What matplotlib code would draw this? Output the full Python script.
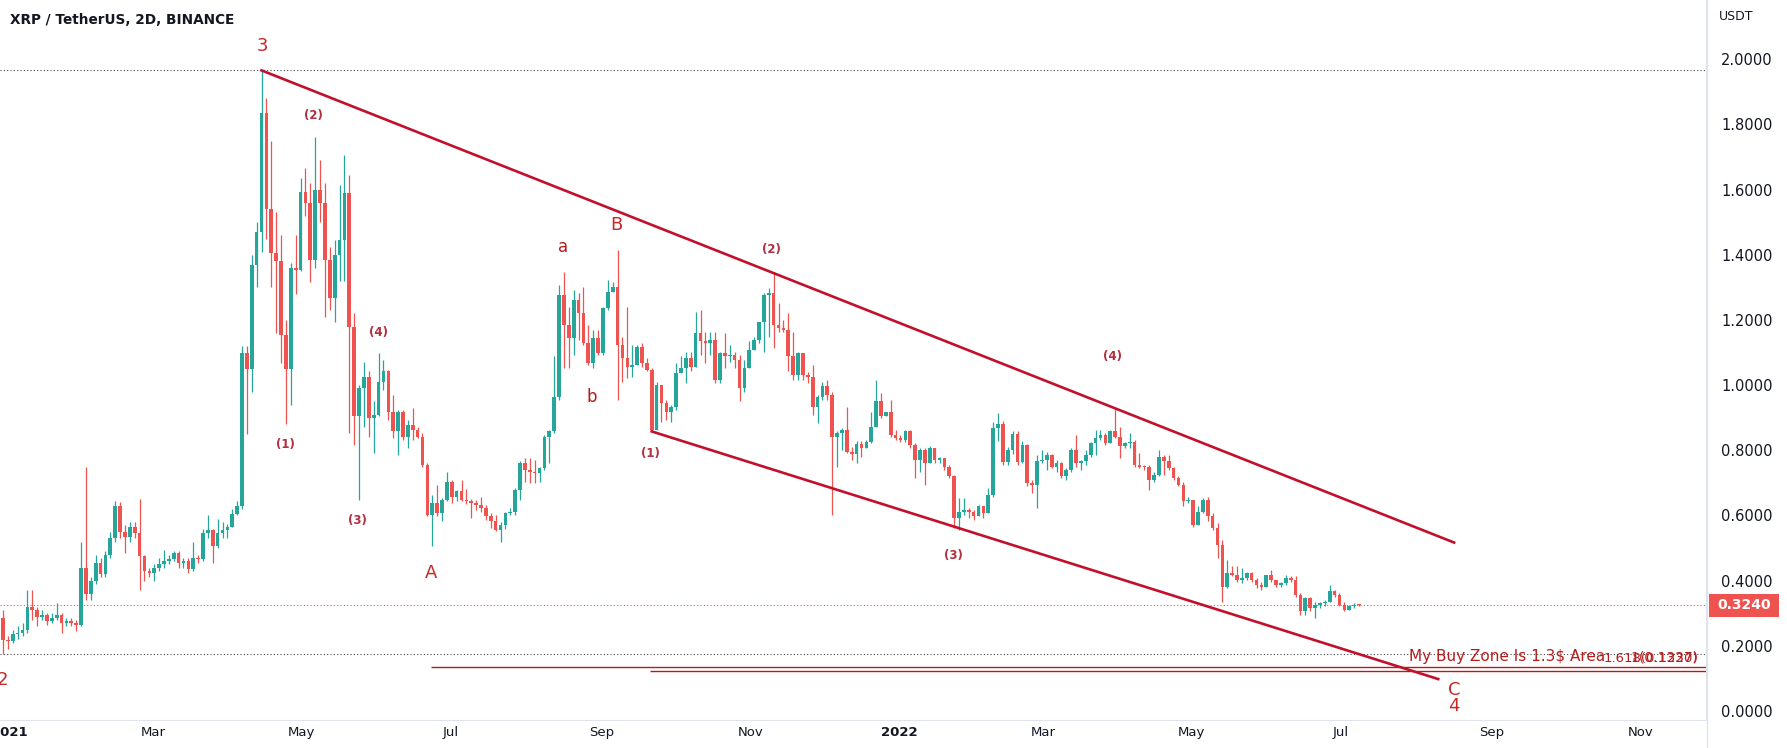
import numpy as np
import matplotlib.pyplot as plt
import matplotlib.transforms as mtransforms
from matplotlib.patches import Rectangle
from datetime import date

# XRP/USDT 2D candles (first candle ~29 Dec 2020)
first_open = 0.285
closes = [
    0.219, 0.215, 0.235, 0.24, 0.25, 0.32, 0.31, 0.29, 0.295, 0.275,
    0.285, 0.295, 0.27, 0.275, 0.27, 0.265, 0.44, 0.36, 0.40, 0.455,
    0.42, 0.48, 0.53, 0.63, 0.55, 0.535, 0.565, 0.545, 0.475, 0.43,
    0.425, 0.44, 0.45, 0.46, 0.465, 0.485, 0.455, 0.46, 0.435, 0.47,
    0.465, 0.545, 0.555, 0.505, 0.545, 0.555, 0.565, 0.605, 0.63, 1.10,
    1.05, 1.37, 1.47, 1.835, 1.54, 1.405, 1.38, 1.155, 1.05, 1.36,
    1.354, 1.594, 1.558, 1.384, 1.599, 1.558, 1.384, 1.266, 1.40, 1.446,
    1.589, 1.18, 0.904, 0.991, 1.026, 0.899, 0.909, 1.011, 1.042, 0.919,
    0.858, 0.919, 0.842, 0.878, 0.863, 0.842, 0.755, 0.602, 0.638, 0.607,
    0.648, 0.704, 0.658, 0.674, 0.648, 0.645, 0.638, 0.633, 0.623, 0.597,
    0.582, 0.556, 0.571, 0.607, 0.612, 0.679, 0.761, 0.740, 0.735, 0.730,
    0.745, 0.842, 0.858, 0.965, 1.277, 1.185, 1.144, 1.262, 1.221, 1.129,
    1.067, 1.144, 1.098, 1.236, 1.287, 1.302, 1.123, 1.083, 1.057, 1.062,
    1.118, 1.067, 1.047, 0.863, 1.001, 0.945, 0.919, 0.934, 1.037, 1.052,
    1.083, 1.057, 1.159, 1.134, 1.129, 1.139, 1.016, 1.098, 1.088, 1.093,
    1.077, 0.991, 1.052, 1.108, 1.139, 1.195, 1.277, 1.282, 1.185, 1.175,
    1.170, 1.088, 1.031, 1.098, 1.031, 1.026, 0.934, 0.965, 0.996, 0.970,
    0.842, 0.853, 0.863, 0.796, 0.79, 0.82, 0.807, 0.827, 0.873, 0.950,
    0.904, 0.919, 0.847, 0.837, 0.832, 0.858, 0.817, 0.771, 0.801, 0.761,
    0.807, 0.771, 0.776, 0.750, 0.720, 0.592, 0.612, 0.617, 0.612, 0.597,
    0.628, 0.607, 0.663, 0.868, 0.88, 0.765, 0.80, 0.85, 0.765, 0.815,
    0.699, 0.694, 0.766, 0.771, 0.786, 0.750, 0.76, 0.720, 0.740, 0.801,
    0.761, 0.766, 0.786, 0.822, 0.837, 0.847, 0.822, 0.858, 0.842, 0.812,
    0.822, 0.827, 0.755, 0.750, 0.748, 0.709, 0.725, 0.781, 0.766, 0.745,
    0.714, 0.694, 0.643, 0.648, 0.571, 0.612, 0.648, 0.597, 0.561, 0.510,
    0.382, 0.423, 0.418, 0.403, 0.408, 0.423, 0.403, 0.387, 0.382, 0.418,
    0.403, 0.387, 0.392, 0.408, 0.403, 0.357, 0.306, 0.346, 0.316, 0.326,
    0.331, 0.336, 0.367, 0.357, 0.326, 0.311, 0.321, 0.326, 0.324]
highs = [
    0.31, 0.23, 0.25, 0.26, 0.27, 0.37, 0.37, 0.32, 0.31, 0.30,
    0.30, 0.33, 0.30, 0.285, 0.285, 0.28, 0.52, 0.75, 0.41, 0.48,
    0.47, 0.49, 0.55, 0.645, 0.64, 0.57, 0.58, 0.58, 0.65, 0.48,
    0.44, 0.45, 0.47, 0.495, 0.48, 0.49, 0.49, 0.47, 0.47, 0.52,
    0.48, 0.56, 0.60, 0.56, 0.59, 0.58, 0.575, 0.62, 0.645, 1.12,
    1.12, 1.40, 1.50, 1.966, 1.88, 1.75, 1.53, 1.46, 1.20, 1.375,
    1.46, 1.635, 1.665, 1.62, 1.763, 1.69, 1.62, 1.425, 1.445, 1.614,
    1.706, 1.645, 1.22, 1.00, 1.072, 1.042, 0.95, 1.10, 1.078, 1.047,
    0.970, 0.924, 0.924, 0.894, 0.929, 0.873, 0.853, 0.760, 0.663, 0.694,
    0.653, 0.735, 0.709, 0.679, 0.709, 0.68, 0.65, 0.648, 0.658, 0.633,
    0.607, 0.602, 0.58, 0.612, 0.623, 0.684, 0.766, 0.776, 0.776, 0.771,
    0.750, 0.847, 0.863, 1.088, 1.308, 1.348, 1.241, 1.292, 1.282, 1.302,
    1.185, 1.170, 1.170, 1.241, 1.323, 1.318, 1.415, 1.149, 1.241, 1.123,
    1.123, 1.129, 1.083, 1.052, 1.011, 1.001, 0.955, 0.940, 1.067, 1.088,
    1.103, 1.103, 1.226, 1.231, 1.164, 1.164, 1.164, 1.103, 1.159, 1.123,
    1.103, 1.093, 1.077, 1.134, 1.149, 1.195, 1.282, 1.297, 1.348, 1.251,
    1.200, 1.221, 1.164, 1.103, 1.098, 1.040, 1.062, 0.970, 1.011, 1.016,
    0.980, 0.858, 0.870, 0.934, 0.81, 0.83, 0.83, 0.832, 0.919, 1.016,
    0.975, 0.919, 0.955, 0.863, 0.847, 0.863, 0.863, 0.822, 0.807, 0.807,
    0.812, 0.796, 0.781, 0.776, 0.755, 0.725, 0.653, 0.653, 0.622, 0.617,
    0.633, 0.622, 0.684, 0.888, 0.914, 0.89, 0.81, 0.86, 0.86, 0.83,
    0.82, 0.71, 0.786, 0.80, 0.795, 0.79, 0.77, 0.765, 0.745, 0.807,
    0.847, 0.77, 0.801, 0.827, 0.863, 0.863, 0.853, 0.863, 0.929, 0.873,
    0.827, 0.853, 0.832, 0.791, 0.755, 0.755, 0.735, 0.801, 0.786, 0.786,
    0.750, 0.720, 0.704, 0.658, 0.648, 0.628, 0.653, 0.658, 0.607, 0.576,
    0.525, 0.464, 0.444, 0.444, 0.438, 0.428, 0.428, 0.408, 0.397, 0.418,
    0.433, 0.397, 0.397, 0.418, 0.413, 0.413, 0.362, 0.351, 0.351, 0.336,
    0.336, 0.341, 0.387, 0.372, 0.362, 0.336, 0.326, 0.331, 0.327]
lows = [
    0.175, 0.19, 0.21, 0.22, 0.23, 0.24, 0.28, 0.26, 0.28, 0.265,
    0.27, 0.28, 0.24, 0.26, 0.26, 0.245, 0.26, 0.34, 0.34, 0.39,
    0.41, 0.41, 0.47, 0.52, 0.53, 0.485, 0.52, 0.53, 0.37, 0.40,
    0.41, 0.40, 0.43, 0.44, 0.45, 0.46, 0.44, 0.44, 0.425, 0.43,
    0.455, 0.46, 0.53, 0.455, 0.50, 0.53, 0.53, 0.57, 0.60, 0.62,
    0.85, 0.98, 1.30, 1.41, 1.45, 1.30, 1.16, 1.067, 0.88, 0.94,
    1.28, 1.35, 1.52, 1.318, 1.36, 1.50, 1.21, 1.23, 1.195, 1.32,
    1.32, 0.853, 0.817, 0.648, 0.873, 0.842, 0.791, 0.904, 0.986, 0.894,
    0.837, 0.786, 0.832, 0.807, 0.832, 0.837, 0.750, 0.597, 0.505, 0.597,
    0.582, 0.643, 0.638, 0.643, 0.643, 0.635, 0.592, 0.617, 0.612, 0.587,
    0.561, 0.551, 0.520, 0.56, 0.60, 0.60, 0.648, 0.704, 0.699, 0.699,
    0.704, 0.740, 0.761, 0.853, 0.955, 1.052, 1.052, 1.093, 1.139, 1.123,
    1.062, 1.052, 1.093, 1.093, 1.231, 1.287, 0.955, 1.011, 1.021, 1.026,
    1.062, 1.057, 1.042, 0.858, 0.888, 0.888, 0.893, 0.888, 0.924, 1.037,
    1.006, 1.042, 1.062, 1.093, 1.067, 1.093, 1.006, 1.006, 1.052, 1.072,
    1.052, 0.950, 0.980, 1.067, 1.108, 1.129, 1.103, 1.149, 1.113, 1.164,
    1.164, 1.042, 1.016, 1.016, 1.016, 1.006, 0.909, 0.883, 0.955, 0.955,
    0.602, 0.750, 0.80, 0.791, 0.77, 0.761, 0.781, 0.807, 0.822, 0.873,
    0.899, 0.904, 0.842, 0.832, 0.827, 0.827, 0.807, 0.714, 0.735, 0.694,
    0.761, 0.761, 0.761, 0.740, 0.714, 0.561, 0.556, 0.602, 0.592, 0.587,
    0.597, 0.592, 0.607, 0.658, 0.83, 0.755, 0.755, 0.79, 0.755, 0.76,
    0.69, 0.669, 0.622, 0.76, 0.74, 0.745, 0.735, 0.715, 0.71, 0.735,
    0.750, 0.74, 0.755, 0.781, 0.786, 0.832, 0.817, 0.822, 0.837, 0.776,
    0.807, 0.807, 0.750, 0.745, 0.740, 0.679, 0.704, 0.720, 0.725, 0.740,
    0.709, 0.689, 0.628, 0.638, 0.566, 0.576, 0.607, 0.582, 0.556, 0.469,
    0.336, 0.377, 0.413, 0.397, 0.392, 0.403, 0.397, 0.377, 0.372, 0.382,
    0.397, 0.382, 0.382, 0.387, 0.397, 0.351, 0.295, 0.295, 0.306, 0.285,
    0.316, 0.321, 0.336, 0.351, 0.321, 0.306, 0.311, 0.316, 0.322]

tick_dates = [date(2021, 1, 1), date(2021, 3, 1), date(2021, 5, 1), date(2021, 7, 1),
              date(2021, 9, 1), date(2021, 11, 1), date(2022, 1, 1), date(2022, 3, 1),
              date(2022, 5, 1), date(2022, 7, 1), date(2022, 9, 1), date(2022, 11, 1)]
tick_labels = ["2021", "Mar", "May", "Jul", "Sep", "Nov", "2022", "Mar", "May", "Jul", "Sep", "Nov"]
price_ticks = [0.0, 0.2, 0.4, 0.6, 0.8, 1.0, 1.2, 1.4, 1.6, 1.8, 2.0]
last_price = 0.324

UP = "#26a69a"
DOWN = "#ef5350"
WAVE = "#c2102c"
LBL = "#c62828"

# x = days since 1 Jan 2021
days = np.arange(len(closes)) * 2 - 2.5
c = np.array(closes)
o = np.array([first_open] + closes[:-1])
h = np.maximum(np.array(highs), np.maximum(o, c))
l = np.minimum(np.array(lows), np.minimum(o, c))
cols = np.where(c >= o, UP, DOWN)

fig = plt.figure(figsize=(17.87, 7.48), dpi=100)
ax = fig.add_axes([0, 28 / 748, 1706 / 1787, 720 / 748])
ax.set_xlim(-3.74, 695.8)
ax.set_ylim(-0.0276, 2.182)

ax.vlines(days, l, h, colors=cols, linewidth=0.9, zorder=3)
ax.bar(days, np.maximum(np.abs(c - o), 0.004), bottom=np.minimum(o, c), width=1.5,
       color=cols, linewidth=0, zorder=3)

# dotted reference lines
ax.axhline(1.966, color="#444444", lw=0.8, ls=(0, (1, 2)), zorder=1)
ax.axhline(0.175, color="#444444", lw=0.8, ls=(0, (1, 2)), zorder=1)
ax.axhline(last_price, color=DOWN, lw=0.8, ls=(0, (1, 2)), zorder=1)

# wedge lines
ax.plot([103.5, 592.5], [1.966, 0.517], color=WAVE, lw=1.9, zorder=4)
ax.plot([263.5, 586.0], [0.858, 0.098], color=WAVE, lw=1.9, zorder=4)

# fib target lines
ax.hlines(0.1337, 172.9, 695.8, color="#b71c1c", lw=1.0, zorder=4)
ax.hlines(0.122, 262.6, 695.8, color="#b71c1c", lw=1.0, zorder=4)

ax.text(574.0, 0.152, "My Buy Zone Is 1.3\\$ Area", color="#b71c1c", fontsize=11,
        va="baseline", ha="left", zorder=5)
ax.text(692.5, 0.150, "1.618(0.1220)", color="#b71c1c", fontsize=9.5, va="baseline", ha="right", zorder=5)
ax.text(692.5, 0.152, "1(0.1337)", color="#b71c1c", fontsize=10, va="baseline", ha="right", zorder=5)

# wave count labels
big = [("3", 103.7, 2.042), ("A", 172.9, 0.423), ("B", 249.1, 1.493), ("C", 592.5, 0.066),
       ("4", 592.5, 0.014), ("2", -2.8, 0.094)]
small = [("a", 227.1, 1.423), ("b", 238.8, 0.965)]
paren = [("(2)", 124.8, 1.829), ("(1)", 113.1, 0.818), ("(3)", 143.0, 0.584), ("(4)", 151.4, 1.161),
         ("(1)", 263.1, 0.790), ("(2)", 312.6, 1.416), ("(3)", 387.4, 0.476), ("(4)", 452.3, 1.087)]
for t, x, y in big:
    ax.text(x, y, t, color=LBL, fontsize=13, ha="center", va="center", zorder=5)
for t, x, y in small:
    ax.text(x, y, t, color="#b71c1c", fontsize=12, ha="center", va="center", zorder=5)
for t, x, y in paren:
    ax.text(x, y, t, color="#b23040", fontsize=8.5, fontweight="bold", ha="center", va="center", zorder=5)

# axes styling
for s in ["top", "left"]:
    ax.spines[s].set_visible(False)
ax.spines["bottom"].set_color("#e0e3eb")
ax.spines["right"].set_color("#e0e3eb")
fig.add_artist(plt.Line2D([1706.5 / 1787] * 2, [0, 1], transform=fig.transFigure,
                          color="#e0e3eb", lw=1))

ax.yaxis.tick_right()
ax.set_yticks(price_ticks)
ax.set_yticklabels(["%.4f" % p for p in price_ticks])
ax.tick_params(axis="y", length=0, pad=11, labelsize=10.5, colors="#131722")

base = date(2021, 1, 1)
ax.set_xticks([(d - base).days for d in tick_dates])
ax.set_xticklabels(tick_labels)
ax.tick_params(axis="x", length=0, pad=4, labelsize=9.5, colors="#131722")
for lab in ax.get_xticklabels():
    if lab.get_text().isdigit():
        lab.set_fontweight("bold")

# last price tag
tr = mtransforms.blended_transform_factory(fig.transFigure, ax.transData)
ax.add_patch(Rectangle((1709 / 1787, last_price - 0.035), 70 / 1787, 0.07, transform=tr,
                       facecolor=DOWN, edgecolor="none", clip_on=False, zorder=6))
ax.text(1744 / 1787, last_price, "%.4f" % last_price, transform=tr, color="white",
        fontsize=10, fontweight="bold", ha="center", va="center", zorder=7)

fig.text(1736 / 1787, 1 - 16 / 748, "USDT", ha="center", va="center", fontsize=9, color="#131722")
fig.text(10 / 1787, 1 - 20 / 748, "XRP / TetherUS, 2D, BINANCE", ha="left", va="center",
         fontsize=9.8, fontweight="bold", color="#131722")

fig.savefig("out.png", dpi=100, facecolor="white")
